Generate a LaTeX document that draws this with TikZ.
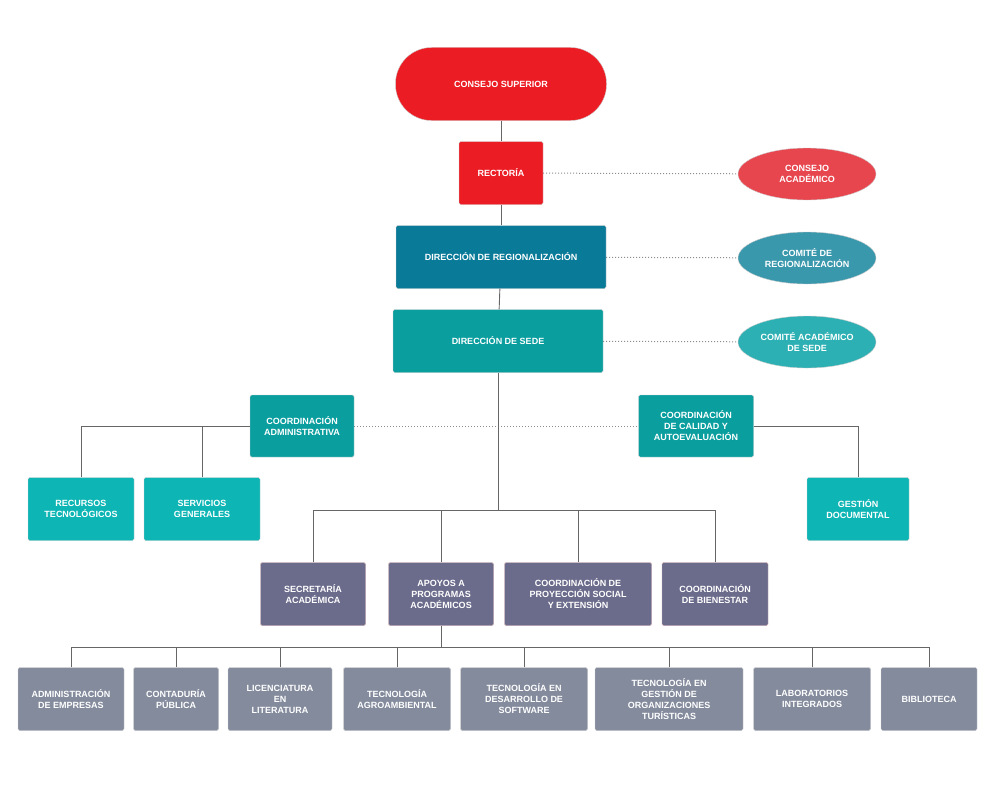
\documentclass[tikz,border=0pt]{standalone}
\usepackage{fontspec}
\setmainfont{Liberation Sans}
\usetikzlibrary{shapes.geometric}
\definecolor{rojo}{HTML}{EC1C24}
\definecolor{rojoel}{HTML}{E8464F}
\definecolor{azul}{HTML}{0A7A99}
\definecolor{azulel}{HTML}{3A98AD}
\definecolor{verde}{HTML}{0A9E9F}
\definecolor{verdeel}{HTML}{2DB0B3}
\definecolor{turq}{HTML}{0DB5B5}
\definecolor{morado}{HTML}{6B6B8C}
\definecolor{gris}{HTML}{848B9D}
\tikzset{
	caja/.style={rectangle, draw=white!80!black, fill=#1, text=white, font=\bfseries\fontsize{9}{11}\selectfont, align=center, inner sep=1pt, rounded corners=1.5pt},
	elipse/.style={ellipse, draw=white!80!black, fill=#1, text=white, font=\bfseries\fontsize{9}{11}\selectfont, align=center, minimum width=138, minimum height=52, inner sep=0pt},
	linea/.style={draw=black!60, line width=0.9pt},
	punteada/.style={draw=black!45, dotted, line width=1pt}
}
\begin{document}
\begin{tikzpicture}[x=1pt, y=-1pt]
	\useasboundingbox (0,0) rectangle (1000,800);
	%upper levels
	\node[caja=rojo, rounded corners=36, minimum width=211, minimum height=73] (consejo) at (501,84) {CONSEJO SUPERIOR};
	\node[caja=rojo, minimum width=84, minimum height=63] (rectoria) at (501,173) {RECTORÍA};
	\node[caja=azul, minimum width=210, minimum height=63] (regional) at (501,257) {DIRECCIÓN DE REGIONALIZACIÓN};
	\node[caja=verde, minimum width=210, minimum height=63] (sede) at (498,341) {DIRECCIÓN DE SEDE};
	
	\node[elipse=rojoel] (academico) at (807,174) {CONSEJO\\ACADÉMICO};
	\node[elipse=azulel] (comitereg) at (807,258) {COMITÉ DE\\REGIONALIZACIÓN};
	\node[elipse=verdeel] (comitesede) at (807,342) {COMITÉ ACADÉMICO\\DE SEDE};
	
	\draw[linea] (consejo) -- (rectoria);
	\draw[linea] (rectoria) -- (regional);
	\draw[linea] (regional) -- (sede);
	\draw[punteada] (rectoria) -- (academico);
	\draw[punteada] (regional) -- (comitereg);
	\draw[punteada] (sede) -- (comitesede);
	
	%coordinations
	\node[caja=verde, minimum width=104, minimum height=62] (admin) at (302,426) {COORDINACIÓN\\ADMINISTRATIVA};
	\node[caja=verde, minimum width=115, minimum height=62] (calidad) at (696,426) {COORDINACIÓN\\DE CALIDAD Y\\AUTOEVALUACIÓN};
	\node[caja=turq, minimum width=106, minimum height=63] (recursos) at (81,509) {RECURSOS\\TECNOLÓGICOS};
	\node[caja=turq, minimum width=116, minimum height=63] (servicios) at (202,509) {SERVICIOS\\GENERALES};
	\node[caja=turq, minimum width=102, minimum height=63] (gestion) at (858,509) {GESTIÓN\\DOCUMENTAL};
	
	\draw[punteada] (admin) -- (calidad);
	\draw[linea] (admin.west) -| (recursos.north);
	\draw[linea] (admin.west) -| (servicios.north);
	\draw[linea] (calidad.east) -| (gestion.north);
	
	%academic units
	\coordinate (bus) at (498,510);
	\node[caja=morado, draw=pink!60!gray, minimum width=105, minimum height=63] (secretaria) at (313,594) {SECRETARÍA\\ACADÉMICA};
	\node[caja=morado, draw=pink!60!gray, minimum width=105, minimum height=63] (apoyos) at (441,594) {APOYOS A\\PROGRAMAS\\ACADÉMICOS};
	\node[caja=morado, draw=pink!60!gray, minimum width=147, minimum height=63] (proyeccion) at (578,594) {COORDINACIÓN DE\\PROYECCIÓN SOCIAL\\Y EXTENSIÓN};
	\node[caja=morado, draw=pink!60!gray, minimum width=106, minimum height=63] (bienestar) at (715,594) {COORDINACIÓN\\DE BIENESTAR};
	
	\draw[linea] (sede) -- (bus);
	\foreach \n in {secretaria, apoyos, proyeccion, bienestar}{
		\draw[linea] (\n.north) |- (bus);
	}
	
	%programs
	\coordinate (bus2) at (441,647);
	\node[caja=gris, minimum width=106, minimum height=63] (empresas) at (71,699) {ADMINISTRACIÓN\\DE EMPRESAS};
	\node[caja=gris, minimum width=85, minimum height=63] (contaduria) at (176,699) {CONTADURÍA\\PÚBLICA};
	\node[caja=gris, minimum width=104, minimum height=63] (literatura) at (280,699) {LICENCIATURA\\EN\\LITERATURA};
	\node[caja=gris, minimum width=107, minimum height=63] (agro) at (397,699) {TECNOLOGÍA\\AGROAMBIENTAL};
	\node[caja=gris, minimum width=127, minimum height=63] (software) at (524,699) {TECNOLOGÍA EN\\DESARROLLO DE\\SOFTWARE};
	\node[caja=gris, minimum width=148, minimum height=63] (turismo) at (669,699) {TECNOLOGÍA EN\\GESTIÓN DE\\ORGANIZACIONES\\TURÍSTICAS};
	\node[caja=gris, minimum width=117, minimum height=63] (laboratorios) at (812,699) {LABORATORIOS\\INTEGRADOS};
	\node[caja=gris, minimum width=96, minimum height=63] (biblioteca) at (929,699) {BIBLIOTECA};
	
	\draw[linea] (apoyos) -- (bus2);
	\foreach \n in {empresas, contaduria, literatura, agro, software, turismo, laboratorios, biblioteca}{
		\draw[linea] (\n.north) |- (bus2);
	}
\end{tikzpicture}
\end{document}
